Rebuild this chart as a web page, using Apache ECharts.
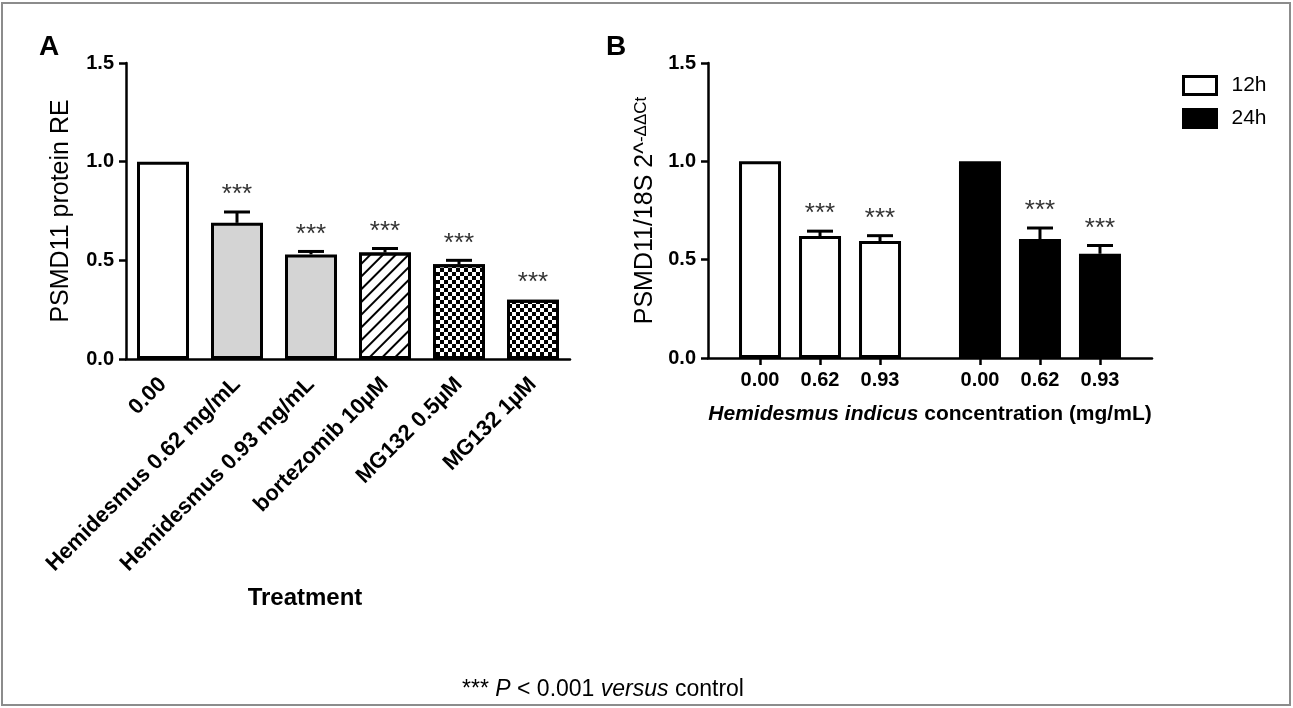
<!DOCTYPE html>
<html>
<head>
<meta charset="utf-8">
<script src="https://cdn.jsdelivr.net/npm/echarts@6/dist/echarts.min.js"></script>
<style>
  html, body { margin: 0; padding: 0; background: #fff; }
  #main { width: 1293px; height: 708px; }
</style>
</head>
<body>
<div id="main"></div>
<script>
// panel A - protein
const treatments = ['0.00', 'Hemidesmus 0.62 mg/mL', 'Hemidesmus 0.93 mg/mL', 'bortezomib 10µM', 'MG132 0.5µM', 'MG132 1µM']
const proteinRE = [1.0, 0.69, 0.53, 0.54, 0.48, 0.30]
const proteinErr = [0, 0.055, 0.015, 0.02, 0.02, 0]
const proteinSig = [0, 1, 1, 1, 1, 1]

// panel B - mRNA
const concentrations = ['0.00', '0.62', '0.93']
const timepoints = ['12h', '24h']
const mrna12h = [1.0, 0.62, 0.595]
const err12h = [0, 0.025, 0.027]
const mrna24h = [1.0, 0.605, 0.53]
const err24h = [0, 0.056, 0.042]
const sig12h = [0, 1, 1]
const sig24h = [0, 1, 1]

const FONT = 'Liberation Sans, Arial, sans-serif'

var myChart = echarts.init(document.getElementById('main'))

// fill styles for A bars
var hatch = {
  symbol: 'rect', color: '#000', backgroundColor: null,
  dashArrayX: [1, 0], dashArrayY: [1.6, 6.5], rotation: -Math.PI / 4
}
var checker = {
  symbol: 'rect', color: '#000', backgroundColor: null, symbolSize: 1,
  dashArrayX: [[3.7, 3.7], [0, 3.7, 3.7, 0]], dashArrayY: [3.7, 0]
}
var fillsA = [
  { color: '#fff' },
  { color: '#d4d4d4' },
  { color: '#d4d4d4' },
  { color: '#fff', decal: hatch },
  { color: '#fff', decal: checker },
  { color: '#fff', decal: checker },
]

// B: positions on a value axis (1 unit = one bar slot), groups separated by a gap
var groupStart = [0.867, 4.533]
var posB = []
var labelsB = []
timepoints.forEach(function (t, g) {
  concentrations.forEach(function (c, i) {
    posB.push(groupStart[g] + i)
    labelsB.push(c)
  })
})

function errRender(params, api) {
  var x = api.value(0), v = api.value(1), e = api.value(2), s = api.value(3)
  var base = api.coord([x, v])
  var top = api.coord([x, v + e])
  var children = []
  var ls = { stroke: '#000', lineWidth: 3 }
  if (e > 0) {
    children.push({ type: 'line', shape: { x1: base[0], y1: base[1], x2: top[0], y2: top[1] }, style: ls })
    children.push({ type: 'line', shape: { x1: top[0] - 13, y1: top[1], x2: top[0] + 13, y2: top[1] }, style: ls })
  }
  if (s) {
    children.push({
      type: 'text',
      style: { x: top[0], y: top[1] - 17, text: '***', fill: '#333', font: '26px ' + FONT, align: 'center', verticalAlign: 'middle' },
    })
  }
  return { type: 'group', children: children }
}

var yAxisCommon = {
  type: 'value',
  min: 0,
  max: 1.5,
  interval: 0.5,
  axisLine: { show: true, lineStyle: { color: '#000', width: 2.5 } },
  axisTick: { show: true, length: 7, lineStyle: { color: '#000', width: 2.5 } },
  axisLabel: { color: '#000', fontFamily: FONT, fontWeight: 'bold', fontSize: 20, margin: 12, formatter: (v) => v.toFixed(1) },
  splitLine: { show: false },
  nameLocation: 'middle',
  nameRotate: 90,
}

var option = {
  backgroundColor: '#fff',
  animation: false,
  grid: [
    { left: 126, top: 63, width: 444, height: 296, containLabel: false, outerBoundsMode: 'none' },
    { left: 708, top: 63, width: 444, height: 295, containLabel: false, outerBoundsMode: 'none' },
  ],
  xAxis: [
    {
      type: 'category',
      gridIndex: 0,
      data: treatments,
      axisLine: { lineStyle: { color: '#000', width: 2.5 } },
      axisTick: { alignWithLabel: true, length: 7, lineStyle: { color: '#000', width: 2.5 } },
      axisLabel: { color: '#000', fontFamily: FONT, fontWeight: 'bold', fontSize: 22, rotate: 45, margin: 22, interval: 0 },
    },
    {
      type: 'value',
      gridIndex: 1,
      min: 0,
      max: 7.4,
      axisLine: { show: true, lineStyle: { color: '#000', width: 2.5 } },
      axisTick: { show: true, customValues: posB, length: 7, lineStyle: { color: '#000', width: 2.5 } },
      axisLabel: {
        customValues: posB,
        color: '#000', fontFamily: FONT, fontWeight: 'bold', fontSize: 20, margin: 12,
        formatter: function (v) {
          var k = posB.findIndex((p) => Math.abs(p - v) < 1e-6)
          return k >= 0 ? labelsB[k] : ''
        },
      },
      splitLine: { show: false },
      name: '{i|Hemidesmus indicus} concentration (mg/mL)',
      nameLocation: 'middle',
      nameGap: 46,
      nameTextStyle: {
        color: '#000', fontFamily: FONT, fontWeight: 'bold', fontSize: 21,
        rich: { i: { color: '#000', fontFamily: FONT, fontWeight: 'bold', fontStyle: 'italic', fontSize: 21 } },
      },
    },
  ],
  yAxis: [
    Object.assign({}, yAxisCommon, {
      gridIndex: 0,
      name: 'PSMD11 protein RE',
      nameGap: 52,
      nameTextStyle: { color: '#000', fontFamily: FONT, fontSize: 25 },
    }),
    Object.assign({}, yAxisCommon, {
      gridIndex: 1,
      name: '{n|PSMD11/18S 2^}{s|-ΔΔCt}',
      nameGap: 50,
      nameTextStyle: {
        color: '#000', fontFamily: FONT, fontSize: 25,
        rich: {
          n: { color: '#000', fontFamily: FONT, fontSize: 25 },
          s: { color: '#000', fontFamily: FONT, fontSize: 17, verticalAlign: 'top' },
        },
      },
    }),
  ],
  legend: {
    orient: 'vertical',
    left: 1177,
    top: 70,
    itemWidth: 33,
    itemHeight: 18,
    itemGap: 12,
    data: [
      { name: '12h', icon: 'rect', itemStyle: { color: '#fff', borderColor: '#000', borderWidth: 3 } },
      { name: '24h', icon: 'rect', itemStyle: { color: '#000', borderColor: '#000', borderWidth: 3 } },
    ],
    textStyle: { color: '#000', fontFamily: FONT, fontSize: 21, padding: [0, 0, 0, 10] },
  },
  graphic: [
    { type: 'rect', shape: { x: 2, y: 3, width: 1288, height: 702 }, style: { fill: null, stroke: '#8c8c8c', lineWidth: 2 } },
    { type: 'text', left: 39, top: 33, style: { text: 'A', font: 'bold 28px ' + FONT, fill: '#000' } },
    { type: 'text', left: 606, top: 33, style: { text: 'B', font: 'bold 28px ' + FONT, fill: '#000' } },
    { type: 'text', x: 305, y: 598, style: { text: 'Treatment', font: 'bold 24px ' + FONT, fill: '#000', align: 'center', verticalAlign: 'middle' } },
    {
      type: 'text', x: 603, y: 690,
      style: {
        text: '{a|*** }{b|P}{a| < 0.001 }{b|versus}{a| control}',
        align: 'center', verticalAlign: 'middle',
        rich: {
          a: { font: '23px ' + FONT, fill: '#000' },
          b: { font: 'italic 23px ' + FONT, fill: '#000' },
        },
      },
    },
  ],
  series: [
    {
      name: 'protein',
      type: 'bar',
      xAxisIndex: 0,
      yAxisIndex: 0,
      barWidth: 52,
      data: proteinRE.map(function (v, i) {
        return { value: v, itemStyle: Object.assign({ borderColor: '#000', borderWidth: 3 }, fillsA[i]) }
      }),
    },
    {
      name: 'proteinErr',
      type: 'custom',
      xAxisIndex: 0,
      yAxisIndex: 0,
      z: 5,
      clip: false,
      renderItem: errRender,
      encode: { x: 0, y: 1 },
      data: proteinRE.map((v, i) => [i, v, proteinErr[i], proteinSig[i]]),
    },
    {
      name: '12h',
      type: 'bar',
      xAxisIndex: 1,
      yAxisIndex: 1,
      barWidth: 42,
      barGap: '-100%',
      itemStyle: { color: '#fff', borderColor: '#000', borderWidth: 3 },
      data: mrna12h.map((v, i) => [posB[i], v]),
    },
    {
      name: '24h',
      type: 'bar',
      xAxisIndex: 1,
      yAxisIndex: 1,
      barWidth: 42,
      barGap: '-100%',
      itemStyle: { color: '#000', borderColor: '#000', borderWidth: 3 },
      data: mrna24h.map((v, i) => [posB[i + 3], v]),
    },
    {
      name: 'mrnaErr',
      type: 'custom',
      xAxisIndex: 1,
      yAxisIndex: 1,
      z: 5,
      clip: false,
      renderItem: errRender,
      encode: { x: 0, y: 1 },
      data: mrna12h.map((v, i) => [posB[i], v, err12h[i], sig12h[i]])
        .concat(mrna24h.map((v, i) => [posB[i + 3], v, err24h[i], sig24h[i]])),
    },
  ],
}

option && myChart.setOption(option)
window.addEventListener('resize', function () {
  myChart.resize()
})
</script>
</body>
</html>
